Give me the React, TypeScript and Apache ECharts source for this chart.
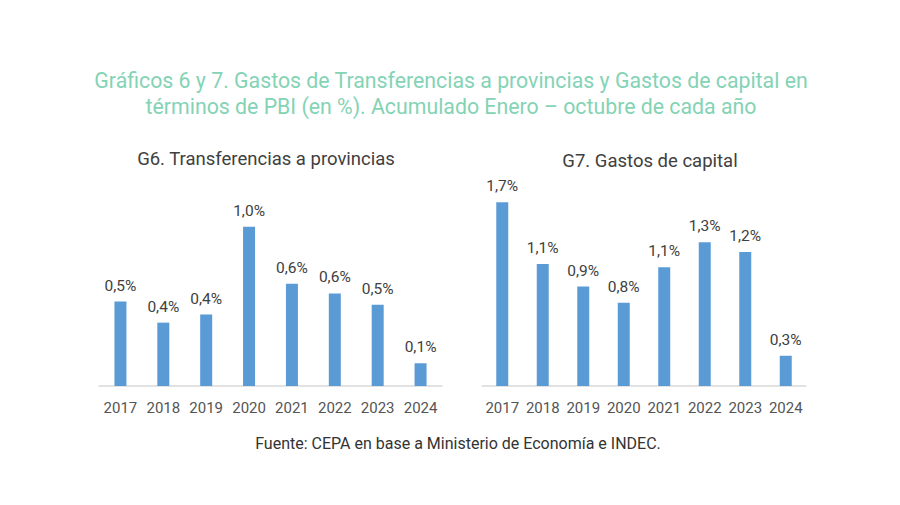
import React, { useEffect, useRef } from "react";
import * as echarts from "echarts";

const years = ["2017", "2018", "2019", "2020", "2021", "2022", "2023", "2024"];
const transferencias = [0.52, 0.39, 0.44, 0.98, 0.63, 0.57, 0.5, 0.14];
const capital = [1.7, 1.13, 0.92, 0.77, 1.1, 1.33, 1.24, 0.28];

const mainTitle =
  "Gráficos 6 y 7. Gastos de Transferencias a provincias y Gastos de capital en\ntérminos de PBI (en %). Acumulado Enero – octubre de cada año";
const leftTitle = "G6. Transferencias a provincias";
const rightTitle = "G7. Gastos de capital";
const source = "Fuente: CEPA en base a Ministerio de Economía e INDEC.";

const FONT = "Roboto, 'Noto Sans', sans-serif";
const BAR = "#5b9bd5";
const TEXT = "#404040";

const fmt = (v: number) => v.toFixed(1).replace(".", ",") + "%";

export default function App() {
  const ref = useRef<HTMLDivElement>(null);
  useEffect(() => {
    if (!ref.current) return;
    const chart = echarts.init(ref.current, null, { renderer: "svg" });
    const xAxisBase = {
      type: "category" as const,
      data: years,
      axisLine: { lineStyle: { color: "#d9d9d9", width: 1.5 } },
      axisTick: { show: false },
      axisLabel: { color: "#555", fontSize: 15, fontFamily: FONT, margin: 14, interval: 0 },
    };
    const yAxisBase = {
      type: "value" as const,
      min: 0,
      show: false,
      splitLine: { show: false },
    };
    const labelBase = {
      show: true,
      position: "top" as const,
      distance: 8,
      color: TEXT,
      fontSize: 15.5,
      fontFamily: FONT,
      formatter: (p: any) => fmt(p.value),
    };
    chart.setOption({
      animation: false,
      backgroundColor: "#ffffff",
      title: [
        {
          text: mainTitle,
          left: 446,
          top: 62,
          textAlign: "center",
          textStyle: {
            color: "#84d3b5",
            fontSize: 21.3,
            fontWeight: "normal",
            fontFamily: FONT,
            lineHeight: 26,
            align: "center",
          },
        },
        {
          text: leftTitle,
          left: 261,
          top: 144,
          textAlign: "center",
          textStyle: { color: TEXT, fontSize: 18.5, fontWeight: "normal", fontFamily: FONT },
        },
        {
          text: rightTitle,
          left: 645,
          top: 146,
          textAlign: "center",
          textStyle: { color: TEXT, fontSize: 18.5, fontWeight: "normal", fontFamily: FONT },
        },
        {
          text: source,
          left: 453,
          top: 430,
          textAlign: "center",
          textStyle: { color: "#333", fontSize: 16, fontWeight: "normal", fontFamily: FONT },
        },
      ],
      grid: [
        { left: 99, width: 343, top: 200, height: 186 },
        { left: 482, width: 324, top: 180, height: 206 },
      ],
      xAxis: [
        { ...xAxisBase, gridIndex: 0 },
        { ...xAxisBase, gridIndex: 1 },
      ],
      yAxis: [
        { ...yAxisBase, gridIndex: 0, max: 1.145 },
        { ...yAxisBase, gridIndex: 1, max: 1.907 },
      ],
      series: [
        {
          type: "bar",
          xAxisIndex: 0,
          yAxisIndex: 0,
          data: transferencias,
          barWidth: 12,
          itemStyle: { color: BAR },
          label: labelBase,
        },
        {
          type: "bar",
          xAxisIndex: 1,
          yAxisIndex: 1,
          data: capital,
          barWidth: 12,
          itemStyle: { color: BAR },
          label: labelBase,
        },
      ],
    });
    return () => chart.dispose();
  }, []);
  return (
    <div
      ref={ref}
      style={{ position: "fixed", left: 0, top: 0, width: 900, height: 505 }}
    />
  );
}
